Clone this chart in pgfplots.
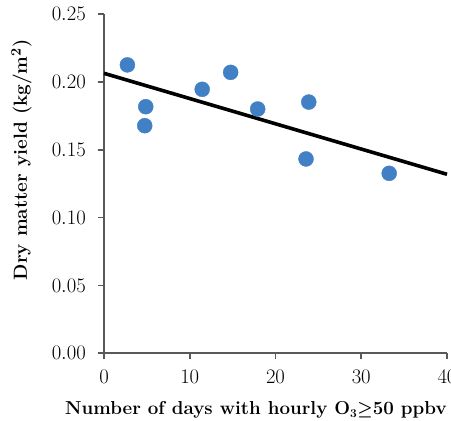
\documentclass[border=0pt]{standalone}
\usepackage{pgfplots}
\pgfplotsset{compat=1.18}
\definecolor{ptblue}{HTML}{4280C6}
\definecolor{axgray}{HTML}{595959}
\begin{document}
\begin{tikzpicture}[x=1bp,y=1bp]
\begin{axis}[
  scale only axis,
  width=343bp, height=339.3bp,
  xmin=0, xmax=40, ymin=0, ymax=0.25,
  axis lines*=left,
  axis line style={axgray, line width=1.8bp},
  every tick/.style={axgray, line width=1.8bp},
  tick align=outside,
  major tick length=6bp,
  xtick={0,10,20,30,40},
  ytick={0,0.05,0.10,0.15,0.20,0.25},
  tick label style={font=\fontsize{21.5}{25}\selectfont},
  xticklabel style={anchor=base, inner sep=0pt, yshift=-24.5bp},
  yticklabel style={anchor=east, inner sep=0pt, xshift=-12bp,
    /pgf/number format/fixed, /pgf/number format/fixed zerofill, /pgf/number format/precision=2},
  xlabel={\textbf{Number of days with hourly O$_{\mathbf{3}}{\geq}$50 ppbv}},
  ylabel={\textbf{Dry matter yield (kg/m$^{\mathbf{2}}$)}},
  xlabel style={font=\fontsize{18.8}{22}\selectfont\boldmath, at={(axis description cs:0.443,-0.1818)}, anchor=base, inner sep=0pt},
  ylabel style={font=\fontsize{19}{22}\selectfont\boldmath, at={(axis description cs:-0.2245,0.57)}, anchor=base, inner sep=0pt},
  clip=false,
]
\addplot[only marks, mark=*, mark size=7.5bp, color=ptblue, mark options={fill=ptblue, draw=ptblue}] coordinates {
  (2.73,0.2125) (4.87,0.1817) (4.75,0.1677) (11.45,0.1945) (14.77,0.2070)
  (17.92,0.1800) (23.88,0.1851) (23.56,0.1432) (33.26,0.1326)
};
\addplot[black, line width=3.6bp] coordinates {(0,0.2063) (40,0.1319)};
\end{axis}
\pgfresetboundingbox
\path (-104bp,-67.7bp) rectangle (347bp,353.3bp);
\end{tikzpicture}
\end{document}
